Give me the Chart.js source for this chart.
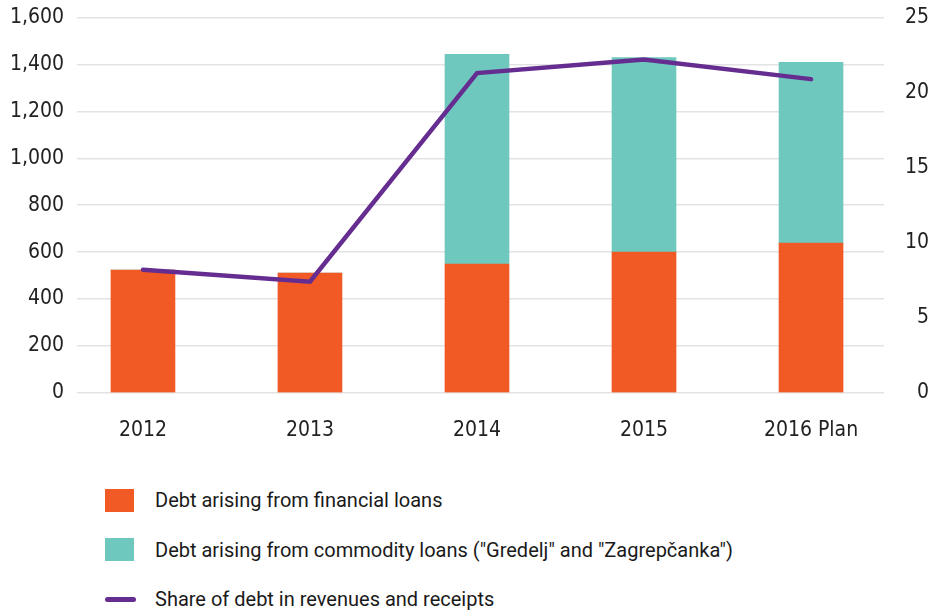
<!DOCTYPE html>
<html>
<head>
<meta charset="utf-8">
<script src="https://cdn.jsdelivr.net/npm/chart.js@4/dist/chart.umd.min.js"></script>
<style>
    body { margin: 0; background: #fff; }
    #wrap { position: relative; width: 929px; height: 468px; margin-top: -8px; }
    #legend { position: absolute; left: 105px; top: 487px; font-family: Roboto, sans-serif; font-size: 20px; color: #1a1a1a; }
    .item { display: flex; align-items: center; height: 26px; margin-bottom: 23.5px; }
    .swatch { width: 29px; margin-right: 21px; }
</style>
</head>
<body>
<div id="wrap"><canvas id="chart"></canvas></div>
<div id="legend"></div>
<script>
// данни, отчетени от графиката
const years = ['2012', '2013', '2014', '2015', '2016 Plan'];
const financialLoans = [523, 511, 549, 600, 638];
const commodityLoans = [0, 0, 894, 830, 771];
const debtShare = [8.2, 7.4, 21.3, 22.2, 20.9];

const orange = '#F15A24';
const teal = '#6EC8BE';
const purple = '#662D91';

// линейна x ос, за да съвпаднат позициите на стълбовете
const pts = arr => arr.map((v, i) => ({ x: i, y: v }));

const chart = new Chart(document.getElementById('chart'), {
    data: {
        datasets: [
            {
                type: 'line',
                label: 'Share of debt in revenues and receipts',
                data: pts(debtShare),
                yAxisID: 'y2',
                borderColor: purple,
                backgroundColor: purple,
                borderWidth: 4.5,
                pointRadius: 0,
                borderCapStyle: 'round',
                order: 0
            },
            {
                type: 'bar',
                label: 'Debt arising from financial loans',
                data: pts(financialLoans),
                backgroundColor: orange,
                barThickness: 64,
                order: 1
            },
            {
                type: 'bar',
                label: 'Debt arising from commodity loans ("Gredelj" and "Zagrepčanka")',
                data: pts(commodityLoans),
                backgroundColor: teal,
                barThickness: 64,
                order: 1
            }
        ]
    },
    options: {
        responsive: true,
        maintainAspectRatio: false,
        animation: false,
        layout: { padding: { top: 6, bottom: 0, left: 0, right: 0 } },
        scales: {
            x: {
                type: 'linear',
                stacked: true,
                offset: false,
                min: -0.395,
                max: 4.437,
                afterBuildTicks: s => { s.ticks = years.map((_, i) => ({ value: i })); },
                grid: { display: false, offset: false },
                border: { display: false },
                ticks: {
                    padding: 17,
                    color: '#222',
                    font: { family: 'DejaVu Sans Condensed', size: 21 },
                    callback: v => years[v]
                }
            },
            y: {
                stacked: true,
                min: 0,
                max: 1600,
                afterFit: s => { s.width = 77; },
                grid: { color: '#e3e3e3', lineWidth: 1.5, drawTicks: false },
                border: { display: false },
                ticks: {
                    stepSize: 200,
                    padding: 13,
                    color: '#222',
                    font: { family: 'DejaVu Sans Condensed', size: 21 },
                    callback: v => v.toLocaleString('en-US')
                }
            },
            y2: {
                position: 'right',
                min: 0,
                max: 25,
                afterFit: s => { s.width = 45; },
                grid: { display: false, drawTicks: false },
                border: { display: false },
                ticks: {
                    stepSize: 5,
                    padding: 9,
                    crossAlign: 'far',
                    color: '#222',
                    font: { family: 'DejaVu Sans Condensed', size: 21 }
                }
            }
        },
        plugins: {
            legend: { display: false },
            tooltip: { enabled: false }
        }
    }
});

// легенда под графиката – в реда на оригинала
const legendOrder = [1, 2, 0];
const legend = document.getElementById('legend');
legendOrder.forEach(i => {
    const ds = chart.data.datasets[i];
    const row = document.createElement('div');
    row.className = 'item';
    const sw = document.createElement('div');
    sw.className = 'swatch';
    if (ds.type === 'line') {
        sw.style.height = '5px';
        sw.style.borderRadius = '3px';
        sw.style.width = '31px';
        sw.style.marginRight = '19px';
    } else {
        sw.style.height = '23px';
    }
    sw.style.background = ds.backgroundColor;
    row.appendChild(sw);
    const txt = document.createElement('span');
    txt.textContent = ds.label;
    row.appendChild(txt);
    legend.appendChild(row);
});
</script>
</body>
</html>
